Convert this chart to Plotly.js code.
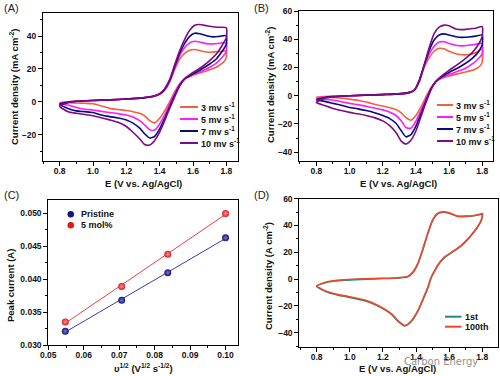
<!DOCTYPE html>
<html><head><meta charset="utf-8">
<script src="https://cdn.plot.ly/plotly-3.0.1.min.js"></script>
<style>html,body{margin:0;padding:0;background:#fff}#chart{width:500px;height:376px}</style>
</head><body><div id="chart"></div>
<script>
// ---------- Data ----------
const seriesNames = ['3 mv s<sup>-1</sup>', '5 mv s<sup>-1</sup>', '7 mv s<sup>-1</sup>', '10 mv s<sup>-1</sup>'];
const seriesColors = ['#f2613f', '#ff1aff', '#0a0a80', '#800a80'];

// Panel A: forward + reverse potential grid (V)
const eA = [0.8,0.85,0.9,1.0,1.1,1.2,1.3,1.36,1.4,1.43,1.46,1.49,1.52,1.55,1.58,1.61,1.64,1.68,1.72,1.76,1.8,
            1.8,1.79,1.77,1.74,1.7,1.65,1.6,1.55,1.52,1.49,1.46,1.43,1.4,1.37,1.34,1.31,1.28,1.24,1.2,1.15,1.1,1.05,1.0,0.95,0.9,0.85,0.8];
const jA3  = [-0.5,0,0.4,0.8,1.2,1.7,2.4,3.2,4.5,7,12,19.5,26,29.5,31.3,31.8,31.2,30.3,30.2,30.6,31,
              27,25,23,21,19.5,17.8,16.2,14,11,6,0,-5.5,-10,-12.8,-11.5,-8.5,-7,-6,-5.3,-4.7,-4,-2.5,-1.2,-0.9,-0.7,-0.6,-0.5];
const jA5  = [-1,-0.2,0.3,0.8,1.2,1.7,2.4,3.2,4.6,7.3,12.5,20.5,28,33,35.8,36.8,36.4,35.4,35.2,35.6,36,
              31,29,26.5,23.5,21,18.5,16.5,14,10.5,5,-1.5,-8,-13.5,-17.2,-17,-14,-11.5,-9.3,-8,-7.2,-6.5,-5.8,-5,-4.5,-3.5,-2,-1];
const jA7  = [-1.5,-0.3,0.3,0.8,1.2,1.7,2.4,3.3,4.8,7.6,13,21.5,29.5,35.5,39.8,41.7,41.4,40.2,39.5,39.8,40.2,
              35,33,30,26,23,19.8,17,14,10,4,-3,-10,-16.5,-21,-22,-19.5,-16,-13,-11,-9.8,-9,-8,-6.5,-6,-5.5,-4,-1.5];
const jA10 = [-2.7,-0.5,0.2,0.8,1.2,1.7,2.5,3.4,5,8,13.5,22.5,31,38,43.5,46.6,47,46.3,45.6,45.3,45,
              39,37,33.5,29,25,21,17.8,14,9.5,3,-4,-11.5,-18.5,-23.5,-26.3,-26,-22.5,-18.5,-15,-12.5,-11,-9.7,-8.5,-7.7,-7,-6,-2.7];

// Panel B
const eB = [0.8,0.85,0.9,1.0,1.1,1.2,1.3,1.36,1.39,1.42,1.45,1.48,1.51,1.54,1.57,1.6,1.64,1.68,1.72,1.76,1.8,
            1.8,1.79,1.77,1.74,1.7,1.65,1.6,1.55,1.52,1.49,1.46,1.43,1.4,1.37,1.34,1.31,1.28,1.24,1.2,1.15,1.1,1.05,1.0,0.95,0.9,0.85,0.8];
const jB3  = [-1,-0.6,-0.3,0,0.4,0.8,1.3,2.2,3.8,10,20,27,31.5,33.6,33.2,31.5,29.8,29,29.2,30.5,33,
              24,21.5,19.5,18,16.8,15.5,14,12,10,5.5,-1,-8,-14,-17.3,-15.5,-12,-9.8,-8.3,-7.3,-6,-4.5,-3.2,-2.4,-1.7,-1.2,-1,-1];
const jB5  = [-2,-1,-0.5,0,0.4,0.8,1.3,2.2,3.8,10,21,29.5,35,38,38.2,37,35.8,35.3,35.8,36.5,37,
              30,28,25.5,22.5,19.5,17.2,15,12.5,10,5,-2.5,-10.5,-18,-23,-22.5,-17.5,-14,-11.5,-10,-8.7,-7.5,-6.3,-5.4,-4.2,-3,-2.5,-2];
const jB7  = [-3,-1.2,-0.6,0,0.4,0.8,1.3,2.2,3.9,10.5,21.5,32,39.5,43,43.8,43,41.8,41.3,41.6,42.2,43,
              36,33.5,30,26.5,23,19.5,16.5,13,10,4.5,-4,-13,-21.5,-27.5,-29.1,-24.5,-19.5,-16,-14,-12,-10.5,-9.3,-8.3,-6.8,-5.4,-4,-3];
const jB10 = [-4.7,-1.8,-0.8,0,0.5,0.9,1.5,2.5,4,11,22,34,44,48.5,50,49.5,47.3,46.8,47.3,47.8,49,
              42,39,35,30.5,26.5,22,18,13.5,10,4,-5,-15,-25,-31.5,-34.2,-32,-26,-21,-17.8,-15.5,-14,-12.8,-11.8,-10.5,-9,-7,-4.7];

// Panel C: peak current vs square root of scan rate
const sqrtRate = [0.0548, 0.0707, 0.0837, 0.1];
const peakPristine = [0.0321, 0.0368, 0.0410, 0.0463];
const peak5mol = [0.0335, 0.0389, 0.0438, 0.0500];

// Panel D: cycling
const eD = [0.8,0.85,0.9,0.97,1.1,1.2,1.27,1.35,1.38,1.41,1.44,1.47,1.5,1.53,1.56,1.6,1.65,1.7,1.75,1.79,1.8,
            1.8,1.79,1.764,1.72,1.673,1.62,1.573,1.54,1.513,1.49,1.472,1.44,1.412,1.37,1.332,1.29,1.252,1.171,1.1,0.99,0.93,0.87,0.8];
const jD1st = [-5.4,-2.8,-1.6,-0.8,-0.1,0.4,0.6,1.8,4.6,11,21.5,33.5,43.6,48.7,49.9,49.2,46.7,46.8,47.3,48.2,48.8,
               46.5,42.6,37.3,30.6,24.8,20.1,16.1,11.6,6.1,0.6,-6.4,-15.9,-23.8,-31.9,-35,-31.4,-26.4,-20.2,-16.5,-13.5,-12,-10.1,-5.4];
const jD100 = [-5.2,-2.5,-1.3,-0.5,0.2,0.6,0.8,2,5,11.5,22,34,44,49,50.2,49.5,47,47,47.5,48.5,49,
               46.8,43,37.7,31,25.2,20.5,16.5,12,6.5,1,-6,-15.5,-23.4,-31.5,-34.7,-31,-26,-19.7,-16,-13,-11.5,-9.7,-5.2];
const cycleNames = ['1st', '100th'];
const cycleColors = ['#1a8f7f', '#f0472c'];

// axis titles
const xTitleE = 'E (V vs. Ag/AgCl)';
const yTitleMA = 'Current density (mA cm<sup>-2</sup>)';
const yTitleA = 'Current density (A cm<sup>-2</sup>)';
const xTitleC = 'υ<sup>1/2</sup> (V<sup>1/2</sup> s<sup>-1/2</sup>)';
const yTitleC = 'Peak current (A)';

// ---------- Build ----------
const FONT = 'Liberation Sans, Arial, sans-serif';
const W = 500, H = 376;
const px = x => x / W;
const py = y => 1 - y / H;

const traces = [];
const cvLine = (x, y, color, xa, ya, name) => ({
  x, y, type: 'scatter', mode: 'lines', name, xaxis: xa, yaxis: ya,
  line: { color, width: 1.6, shape: 'spline', smoothing: 0.6 }, showlegend: false
});
[jA3, jA5, jA7, jA10].forEach((j, i) => traces.push(cvLine(eA, j, seriesColors[i], 'x', 'y', seriesNames[i])));
[jB3, jB5, jB7, jB10].forEach((j, i) => traces.push(cvLine(eB, j, seriesColors[i], 'x2', 'y2', seriesNames[i])));

function fit(xs, ys) {
  const n = xs.length;
  const mx = xs.reduce((a, b) => a + b, 0) / n, my = ys.reduce((a, b) => a + b, 0) / n;
  let sxy = 0, sxx = 0;
  for (let i = 0; i < n; i++) { sxy += (xs[i] - mx) * (ys[i] - my); sxx += (xs[i] - mx) ** 2; }
  const m = sxy / sxx, b = my - m * mx;
  const xe = [xs[0], xs[n - 1]];
  return { x: xe, y: xe.map(v => m * v + b) };
}
const cSeries = [
  { name: 'Pristine', y: peakPristine, color: '#14147a', glow: '#7a7ad0', line: '#3b3ba6' },
  { name: '5 mol%', y: peak5mol, color: '#e01818', glow: '#ff9a9a', line: '#ee4040' }
];
cSeries.forEach(s => {
  const f = fit(sqrtRate, s.y);
  traces.push({ x: f.x, y: f.y, type: 'scatter', mode: 'lines', xaxis: 'x3', yaxis: 'y3',
    line: { color: s.line, width: 1 }, showlegend: false, hoverinfo: 'skip' });
  traces.push({ x: sqrtRate, y: s.y, type: 'scatter', mode: 'markers', name: s.name, xaxis: 'x3', yaxis: 'y3',
    marker: { size: 7, color: s.color, gradient: { type: 'radial', color: s.glow }, line: { width: 0 } },
    showlegend: false });
});

[jD1st, jD100].forEach((j, i) => traces.push(cvLine(eD, j, cycleColors[i], 'x4', 'y4', cycleNames[i])));

function ax(domain, range, dtick, minor, fmt, anchor, isX) {
  return {
    domain, range, anchor, dtick, tick0: 0, tickformat: fmt,
    showline: true, linecolor: '#000', linewidth: 1, mirror: true,
    ticks: 'outside', ticklen: 4, tickwidth: 1, tickcolor: '#000',
    ticklabelstandoff: isX ? -2 : 0,
    minor: { ticks: 'outside', ticklen: 2, tickwidth: 1, tickcolor: '#000', dtick: minor, showgrid: false },
    showgrid: false, zeroline: false, automargin: false,
    tickfont: { family: FONT, size: 8.5, color: '#111', weight: 'bold' }
  };
}
const tfont = { family: FONT, size: 9.5, color: '#111', weight: 'bold' };

const layout = {
  width: W, height: H, margin: { l: 0, r: 0, t: 0, b: 0 },
  paper_bgcolor: '#fff', plot_bgcolor: '#fff', showlegend: false,
  xaxis:  ax([px(43), px(238)], [0.70, 1.87], 0.2, 0.1, '.1f', 'y', true),
  yaxis:  ax([py(161), py(13)], [-36, 54], 20, 10, 'd', 'x', false),
  xaxis2: ax([px(299), px(493)], [0.695, 1.865], 0.2, 0.1, '.1f', 'y2', true),
  yaxis2: ax([py(160.7), py(11)], [-46, 60], 20, 10, 'd', 'x2', false),
  xaxis3: ax([px(48.3), px(238.3)], [0.05, 0.1036], 0.01, 0.005, '.2f', 'y3', true),
  yaxis3: ax([py(345), py(200.3)], [0.030, 0.052], 0.005, 0.0025, '.3f', 'x3', false),
  xaxis4: ax([px(299.3), px(498)], [0.695, 1.895], 0.2, 0.1, '.1f', 'y4', true),
  yaxis4: ax([py(346.7), py(198.7)], [-50.5, 60], 20, 10, 'd', 'x4', false),
  annotations: [], shapes: []
};

// axis titles (placed in paper coordinates)
[[xTitleE, 143, 183.5, 0], [yTitleMA, 14, 87, -90],
 [xTitleE, 398, 183, 0], [yTitleMA, 270, 85, -90],
 [xTitleC, 143, 368, 0], [yTitleC, 10, 286, -90],
 [xTitleE, 397, 368.5, 0], [yTitleA, 268, 276, -90]].forEach(([t, x, y, ang]) =>
  layout.annotations.push({ text: t, xref: 'paper', yref: 'paper', x: px(x), y: py(y), xanchor: 'center', yanchor: 'middle',
    textangle: ang, showarrow: false, font: tfont }));

// panel labels
[['(A)', 2, 8], ['(B)', 252, 8], ['(C)', 2, 195], ['(D)', 252, 195]].forEach(([t, x, y]) =>
  layout.annotations.push({ text: t, xref: 'paper', yref: 'paper', x: px(x), y: py(y), xanchor: 'left', yanchor: 'middle',
    showarrow: false, font: { family: FONT, size: 11, color: '#222' } }));

// legends built from names/colours
const legFont = { family: FONT, size: 9, color: '#111', weight: 'bold' };
function lineLegend(names, colors, x0, x1, rows) {
  names.forEach((n, i) => {
    layout.shapes.push({ type: 'line', xref: 'paper', yref: 'paper', x0: px(x0), x1: px(x1), y0: py(rows[i]), y1: py(rows[i]),
      line: { color: colors[i], width: 2 } });
    layout.annotations.push({ text: n, xref: 'paper', yref: 'paper', x: px(x1 + 1), y: py(rows[i]), xanchor: 'left', yanchor: 'middle',
      showarrow: false, font: legFont });
  });
}
lineLegend(seriesNames, seriesColors, 180, 198, [107, 119, 131, 143]);
lineLegend(seriesNames, seriesColors, 437, 453, [105, 117, 129, 141]);
lineLegend(cycleNames, cycleColors, 445, 461.5, [316.7, 326.7]);
cSeries.forEach((s, i) => {
  const cy = [214.3, 225.3][i];
  layout.shapes.push({ type: 'circle', xref: 'paper', yref: 'paper', x0: px(67.5), x1: px(74), y0: py(cy - 3.25), y1: py(cy + 3.25),
    fillcolor: s.color, line: { width: 0 } });
  layout.annotations.push({ text: s.name, xref: 'paper', yref: 'paper', x: px(79), y: py(cy), xanchor: 'left', yanchor: 'middle',
    showarrow: false, font: legFont });
});

// watermark
layout.annotations.push({ text: 'Carbon Energy', xref: 'paper', yref: 'paper', x: px(441), y: py(361), xanchor: 'center', yanchor: 'middle',
  showarrow: false, font: { family: 'DejaVu Sans, sans-serif', size: 10, color: 'rgba(120,120,120,0.85)' } });

Plotly.newPlot('chart', traces, layout, { staticPlot: true, displayModeBar: false });
</script>
</body></html>
